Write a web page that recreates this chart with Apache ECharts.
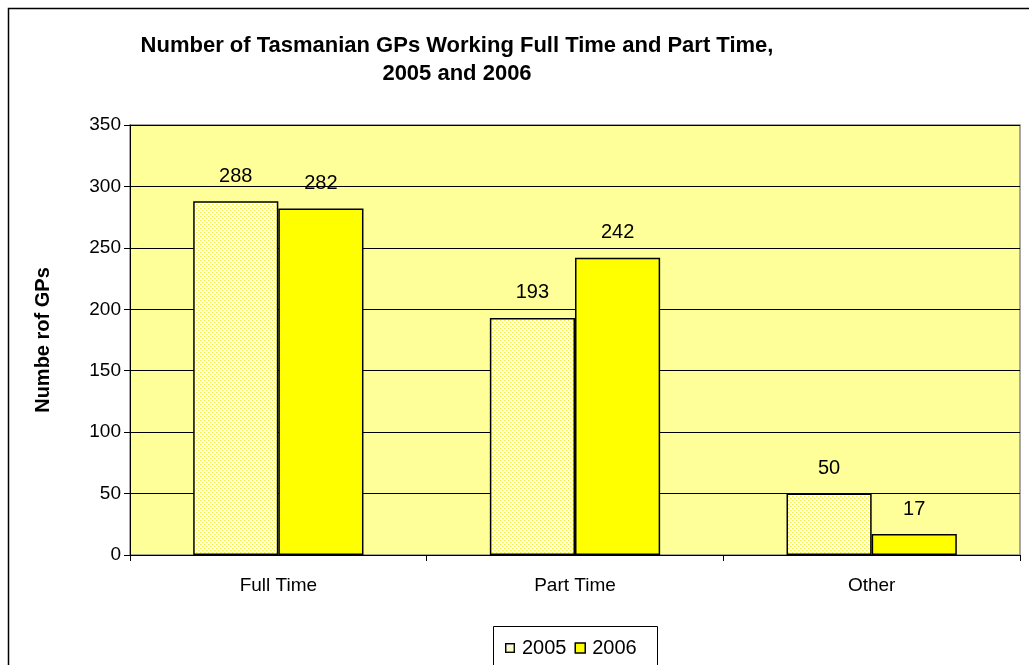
<!DOCTYPE html>
<html>
<head>
<meta charset="utf-8">
<script src="https://cdn.jsdelivr.net/npm/echarts@6/dist/echarts.min.js"></script>
<style>
html,body{margin:0;padding:0;background:#fff;}
#c{width:1029px;height:665px;}
</style>
</head>
<body>
<div id="c"></div>
<script>
const categories = ['Full Time', 'Part Time', 'Other'];
const values2005 = [288, 193, 50];
const values2006 = [282, 242, 17];
const seriesNames = ['2005', '2006'];
const yTicks = [0, 50, 100, 150, 200, 250, 300, 350];

// dotted pattern for 2005
function drawDots(ctx, w, h) {
  ctx.fillStyle = '#FFFFF2';
  ctx.fillRect(0, 0, w, h);
  for (let y = 0; y < h; y += 2) {
    for (let x = (y % 4 === 0 ? 0 : 2); x < w; x += 4) {
      ctx.fillStyle = '#F5F040';
      ctx.fillRect(x, y, 1, 1);
      ctx.fillStyle = '#FBF8A0';
      ctx.fillRect(x + 1, y, 1, 1);
    }
  }
}
const pc = document.createElement('canvas');
pc.width = 4; pc.height = 4;
drawDots(pc.getContext('2d'), 4, 4);
const pattern2005 = { image: pc, repeat: 'repeat' };

// legend icon for 2005 (dotted square with black border)
const ic = document.createElement('canvas');
ic.width = 11; ic.height = 11;
const ictx = ic.getContext('2d');
drawDots(ictx, 11, 11);
ictx.strokeStyle = '#000';
ictx.lineWidth = 1.5;
ictx.strokeRect(0.75, 0.75, 9.5, 9.5);
const icon2005 = 'image://' + ic.toDataURL();

const FONT = 'Liberation Sans, Arial, sans-serif';
const chart = echarts.init(document.getElementById('c'));
chart.setOption({
  backgroundColor: '#ffffff',
  animation: false,
  title: {
    text: 'Number of Tasmanian GPs Working Full Time and Part Time,\n2005 and 2006',
    left: 452, top: 27, textAlign: 'center',
    textStyle: { fontFamily: FONT, fontSize: 22, fontWeight: 'bold', color: '#000', lineHeight: 28 }
  },
  graphic: [
    { type: 'rect', left: 6, top: 6, shape: { width: 1040, height: 700 },
      style: { fill: 'none', stroke: '#000', lineWidth: 1.5 }, silent: true, z: -1 },
    { type: 'rect', left: 493, top: 626, shape: { width: 164, height: 60 },
      style: { fill: '#fff', stroke: '#000', lineWidth: 1 }, silent: true, z: 0 }
  ],
  legend: {
    data: [
      { name: seriesNames[0], icon: icon2005 },
      { name: seriesNames[1], icon: 'rect', itemStyle: { color: '#FFFF00', borderColor: '#000', borderWidth: 1.5 } }
    ],
    left: 500, top: 633,
    itemWidth: 10, itemHeight: 10, itemGap: 8,
    textStyle: { fontFamily: FONT, fontSize: 20, color: '#000', padding: [0, 0, 0, 2] },
    z: 5
  },
  grid: {
    left: 130, right: 9, top: 125, bottom: 110,
    show: true, backgroundColor: '#FFFF99', borderColor: '#8a8a8a', borderWidth: 1.5
  },
  xAxis: {
    type: 'category', data: categories,
    axisLine: { lineStyle: { color: '#000', width: 1 } },
    axisTick: { show: true, length: 6, lineStyle: { color: '#000' } },
    axisLabel: { fontFamily: FONT, fontSize: 19, color: '#000', margin: 21 }
  },
  yAxis: {
    type: 'value', min: 0, max: 350, interval: 50,
    name: 'Numbe rof GPs', nameLocation: 'middle', nameGap: 77, nameRotate: 90,
    nameTextStyle: { fontFamily: FONT, fontSize: 20, fontWeight: 'bold', color: '#000' },
    axisLine: { show: true, lineStyle: { color: '#000', width: 1 } },
    axisTick: { show: true, length: 6, lineStyle: { color: '#000' } },
    axisLabel: { fontFamily: FONT, fontSize: 19, color: '#000', margin: 9,
      formatter: v => yTicks.includes(v) ? String(v) : '' },
    splitLine: { show: true, lineStyle: { color: '#000', width: 1 } }
  },
  series: [
    { name: seriesNames[0], type: 'bar', data: values2005,
      barGap: '0%', barCategoryGap: '42.6%',
      itemStyle: { color: pattern2005, borderColor: '#000', borderWidth: 1.5 },
      label: { show: true, position: 'top', distance: 15, fontFamily: FONT, fontSize: 20, color: '#000' } },
    { name: seriesNames[1], type: 'bar', data: values2006,
      barGap: '0%', barCategoryGap: '42.6%',
      itemStyle: { color: '#FFFF00', borderColor: '#000', borderWidth: 1.5 },
      label: { show: true, position: 'top', distance: 15, fontFamily: FONT, fontSize: 20, color: '#000' } }
  ]
});
</script>
</body>
</html>
